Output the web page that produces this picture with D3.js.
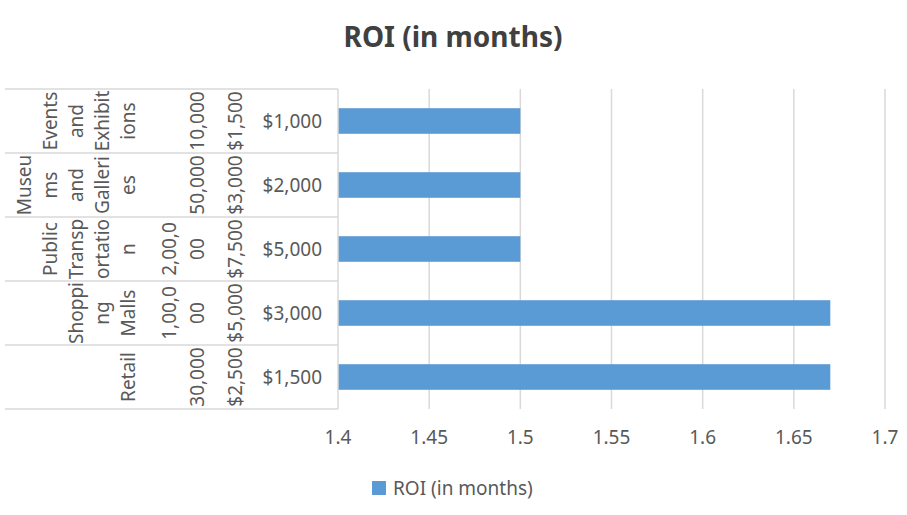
<!DOCTYPE html>
<html>
<head>
<meta charset="utf-8">
<script src="https://cdn.jsdelivr.net/npm/d3@7.9.0/dist/d3.min.js"></script>
<style>
  body { margin: 0; background: #fff; }
  text { font-family: "Noto Sans", sans-serif; fill: #595959; }
</style>
</head>
<body>
<svg id="chart" width="907" height="515"></svg>
<script>
// category levels, outermost first (already wrapped the way the chart shows them)
const segments = [
  ["Events", "and", "Exhibit", "ions"],
  ["Museu", "ms", "and", "Galleri", "es"],
  ["Public", "Transp", "ortatio", "n"],
  ["Shoppi", "ng", "Malls"],
  ["Retail"]
];
const reach = [["10,000"], ["50,000"], ["2,00,0", "00"], ["1,00,0", "00"], ["30,000"]];
const cost = ["$1,500", "$3,000", "$7,500", "$5,000", "$2,500"];
const price = ["$1,000", "$2,000", "$5,000", "$3,000", "$1,500"];
const roi = [1.5, 1.5, 1.5, 1.67, 1.67];
const xTicks = [1.4, 1.45, 1.5, 1.55, 1.6, 1.65, 1.7];
const seriesName = "ROI (in months)";

const svg = d3.select('#chart');
const grey = '#d9d9d9';
const fs = '19px';

const x = d3.scaleLinear().domain([1.4, 1.7]).range([338, 885]);
const y = d3.scaleBand().domain(d3.range(price.length)).range([89, 409]);
const barH = y.bandwidth() * 0.4;

// title
svg.append('text')
  .attr('x', 453).attr('y', 47)
  .attr('text-anchor', 'middle')
  .style('font-size', '28px').style('font-weight', 'bold')
  .style('fill', '#404040')
  .text(seriesName);

// vertical gridlines
svg.append('g')
  .selectAll('line')
  .data(xTicks.slice(1))
  .join('line')
  .attr('x1', d => x(d)).attr('x2', d => x(d))
  .attr('y1', 89).attr('y2', 409)
  .attr('stroke', grey).attr('stroke-width', 1.5);

// x tick labels
svg.append('g')
  .selectAll('text')
  .data(xTicks)
  .join('text')
  .attr('x', d => x(d)).attr('y', 444)
  .attr('text-anchor', 'middle')
  .style('font-size', fs)
  .text(d => d);

// bars
svg.append('g')
  .selectAll('rect')
  .data(roi)
  .join('rect')
  .attr('x', x(1.4))
  .attr('y', (d, i) => y(i) + (y.bandwidth() - barH) / 2)
  .attr('width', d => x(d) - x(1.4))
  .attr('height', barH)
  .attr('fill', '#5b9bd5');

// category separators + axis line
const bounds = d3.range(price.length + 1).map(i => i < price.length ? y(i) : y.range()[1]);
svg.append('g')
  .selectAll('line')
  .data(bounds)
  .join('line')
  .attr('x1', 5).attr('x2', x(1.4))
  .attr('y1', d => d).attr('y2', d => d)
  .attr('stroke', grey).attr('stroke-width', 1.5);
svg.append('line')
  .attr('x1', x(1.4)).attr('x2', x(1.4))
  .attr('y1', 89).attr('y2', 409)
  .attr('stroke', grey).attr('stroke-width', 1.5);

// innermost level: horizontal labels
svg.append('g')
  .selectAll('text')
  .data(price)
  .join('text')
  .attr('x', 322)
  .attr('y', (d, i) => y(i) + y.bandwidth() / 2 + 7)
  .attr('text-anchor', 'end')
  .style('font-size', fs)
  .text(d => d);

// rotated levels: lines stack leftwards from the last baseline
function rotatedLevel(rows, lastBase, lh) {
  const g = svg.append('g');
  rows.forEach((lines, i) => {
    const n = lines.length;
    lines.forEach((ln, j) => {
      const bx = lastBase - (n - 1 - j) * lh;
      g.append('text')
        .attr('transform', `translate(${bx},${y(i) + y.bandwidth() / 2}) rotate(-90)`)
        .attr('text-anchor', 'middle')
        .style('font-size', fs)
        .text(ln);
    });
  });
}
rotatedLevel(segments, 135, 26);
rotatedLevel(reach, 204, 28);
rotatedLevel(cost.map(d => [d]), 242, 26);

// legend
const legend = svg.append('g');
legend.append('rect')
  .attr('x', 372).attr('y', 481).attr('width', 14).attr('height', 14)
  .attr('fill', '#5b9bd5');
legend.append('text')
  .attr('x', 393).attr('y', 495)
  .style('font-size', fs)
  .text(seriesName);
</script>
</body>
</html>
